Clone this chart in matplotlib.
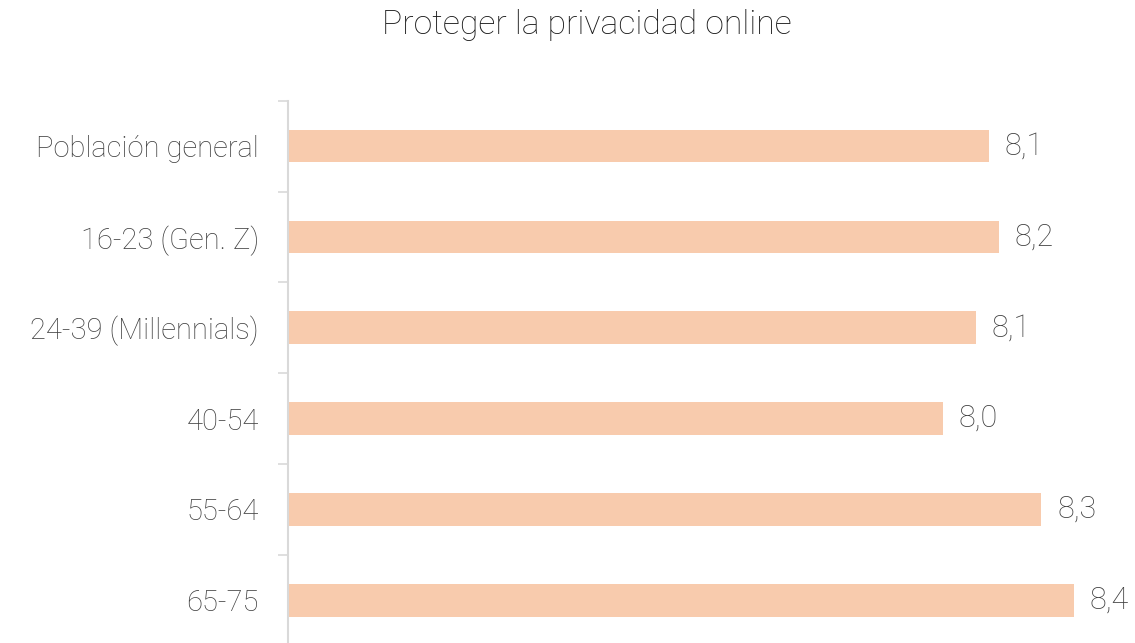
import matplotlib
matplotlib.use("Agg")
import matplotlib.pyplot as plt
from matplotlib.ticker import FixedLocator

categories = ["Población general", "16-23 (Gen. Z)", "24-39 (Millennials)",
              "40-54", "55-64", "65-75"]
values = [8.14, 8.17, 8.10, 8.00, 8.30, 8.40]
title = "Proteger la privacidad online"

plt.rcParams['font.family'] = ['Roboto', 'DejaVu Sans']

W, H = 1135, 643
fig = plt.figure(figsize=(W / 100, H / 100), dpi=100)
left_px, top_px, bottom_px = 288, 100.7, 645.6
ax = fig.add_axes([left_px / W, 1 - bottom_px / H, (W - left_px) / W, (bottom_px - top_px) / H])

n = len(categories)
ypos = list(range(n))
ax.barh(ypos, values, height=0.36, color="#F8CBAD", left=0)
ax.set_ylim(n - 0.5, -0.5)
xmin = 6.0
scale = 327.5  # px per unit
ax.set_xlim(xmin, xmin + (W - left_px) / scale)

lab_color = "#404040"
for y, v in zip(ypos, values):
    ax.annotate(f"{v:.1f}".replace(".", ","), xy=(v, y), xytext=(11.5, 0),
                textcoords="offset points", va="center", ha="left",
                fontsize=22, color=lab_color, fontweight="light")

ax.set_yticks(ypos)
ax.set_yticklabels(categories, fontsize=21, color=lab_color, fontweight="light")
ax.tick_params(axis="y", which="major", length=0, pad=21)
ax.yaxis.set_minor_locator(FixedLocator([i - 0.5 for i in range(n + 1)]))
ax.tick_params(axis="y", which="minor", length=7, width=1.2, color="#D9D9D9")
ax.set_xticks([])
for s in ["top", "right", "bottom"]:
    ax.spines[s].set_visible(False)
ax.spines["left"].set_color("#D9D9D9")
ax.spines["left"].set_linewidth(1.5)
ax.set_facecolor("none")

fig.text(587 / W, 1 - 34 / H, title, ha="center", va="baseline",
         fontsize=24.3, color="#1A1A1A", fontweight="light")

fig.savefig("out.png", dpi=100)
